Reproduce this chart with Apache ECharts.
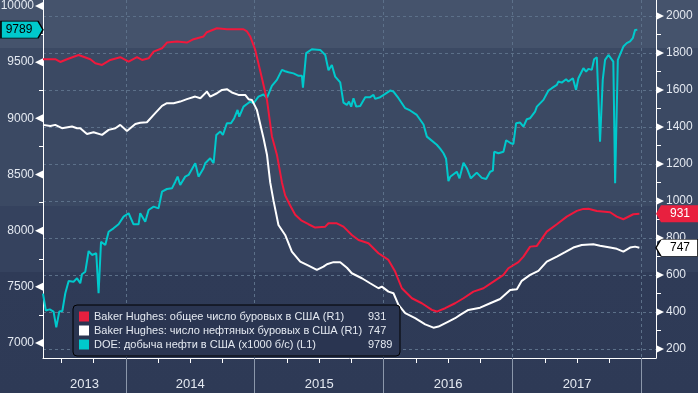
<!DOCTYPE html>
<html><head><meta charset="utf-8">
<script src="https://cdn.jsdelivr.net/npm/echarts@6/dist/echarts.min.js"></script>
<style>html,body{margin:0;padding:0;background:#2f3c58}#c{width:698px;height:393px}</style>
</head><body><div id="c"></div><script>
// ---- data (x = decimal year) ----
const seriesNames = [
  'Baker Hughes: общее число буровых в США (R1)',
  'Baker Hughes: число нефтяных буровых в США (R1)',
  'DOE: добыча нефти в США (x1000 б/с) (L1)'
];
const legendValues = [931, 747, 9789];

const totalRigs = [[2013.358,1766],[2013.453,1766],[2013.492,1751],[2013.544,1766],[2013.634,1789],[2013.725,1766],[2013.764,1744],[2013.816,1735],[2013.880,1762],[2013.957,1777],[2014.022,1753],[2014.087,1777],[2014.126,1762],[2014.177,1771],[2014.216,1807],[2014.281,1825],[2014.319,1856],[2014.397,1862],[2014.474,1856],[2014.526,1874],[2014.603,1889],[2014.629,1912],[2014.707,1933],[2014.784,1928],[2014.862,1928],[2014.913,1928],[2014.940,1916],[2014.965,1889],[2015.004,1816],[2015.056,1663],[2015.095,1546],[2015.133,1350],[2015.172,1250],[2015.211,1100],[2015.236,1030],[2015.275,975],[2015.314,925],[2015.360,895],[2015.417,874],[2015.469,856],[2015.547,861],[2015.572,879],[2015.637,879],[2015.688,861],[2015.753,816],[2015.805,789],[2015.882,771],[2015.960,717],[2016.037,681],[2016.089,618],[2016.141,528],[2016.219,474],[2016.296,447],[2016.374,411],[2016.412,402],[2016.477,420],[2016.554,447],[2016.619,474],[2016.696,510],[2016.774,528],[2016.851,564],[2016.929,600],[2016.967,636],[2017.045,669],[2017.084,699],[2017.136,753],[2017.188,757],[2017.265,834],[2017.343,874],[2017.420,915],[2017.498,946],[2017.549,957],[2017.588,958],[2017.653,946],[2017.756,939],[2017.808,915],[2017.859,901],[2017.936,928],[2017.983,931]];

const oilRigs = [[2013.358,1411],[2013.415,1405],[2013.453,1411],[2013.505,1393],[2013.583,1402],[2013.622,1393],[2013.647,1393],[2013.699,1362],[2013.750,1371],[2013.816,1357],[2013.867,1384],[2013.919,1393],[2013.957,1411],[2014.009,1378],[2014.074,1416],[2014.112,1423],[2014.164,1425],[2014.216,1465],[2014.281,1514],[2014.319,1528],[2014.371,1528],[2014.422,1537],[2014.474,1550],[2014.539,1564],[2014.578,1555],[2014.629,1591],[2014.655,1564],[2014.707,1582],[2014.746,1600],[2014.784,1604],[2014.823,1586],[2014.874,1573],[2014.926,1573],[2014.952,1550],[2014.978,1546],[2015.017,1492],[2015.068,1340],[2015.095,1250],[2015.120,1100],[2015.146,1000],[2015.184,870],[2015.236,816],[2015.288,726],[2015.353,672],[2015.417,650],[2015.482,627],[2015.533,645],[2015.560,658],[2015.611,669],[2015.663,669],[2015.715,639],[2015.753,609],[2015.831,582],[2015.895,555],[2015.960,528],[2015.986,537],[2016.037,510],[2016.076,501],[2016.115,438],[2016.167,393],[2016.244,366],[2016.322,333],[2016.386,315],[2016.425,321],[2016.502,348],[2016.554,366],[2016.593,384],[2016.657,411],[2016.748,423],[2016.826,447],[2016.903,470],[2016.981,519],[2017.033,523],[2017.071,568],[2017.136,600],[2017.200,622],[2017.265,672],[2017.343,699],[2017.407,723],[2017.471,748],[2017.536,762],[2017.626,766],[2017.678,758],[2017.756,748],[2017.808,741],[2017.859,726],[2017.911,748],[2017.950,753],[2017.983,747]];

const oilProduction = [[2013.358,7440],[2013.380,7290],[2013.410,7300],[2013.440,7280],[2013.461,7140],[2013.484,7280],[2013.508,7285],[2013.531,7443],[2013.557,7552],[2013.595,7546],[2013.622,7576],[2013.647,7532],[2013.660,7612],[2013.686,7635],[2013.712,7819],[2013.738,7784],[2013.771,7799],[2013.789,7443],[2013.808,7902],[2013.841,7873],[2013.867,7991],[2013.905,8021],[2013.944,8057],[2013.983,8125],[2014.022,8155],[2014.060,8057],[2014.099,8057],[2014.112,8155],[2014.151,8080],[2014.177,8184],[2014.216,8214],[2014.254,8199],[2014.281,8347],[2014.319,8371],[2014.358,8377],[2014.384,8436],[2014.402,8481],[2014.422,8407],[2014.461,8481],[2014.487,8496],[2014.539,8600],[2014.564,8481],[2014.603,8556],[2014.616,8600],[2014.655,8645],[2014.681,8600],[2014.702,8852],[2014.733,8882],[2014.753,8852],[2014.784,8956],[2014.816,8956],[2014.841,9001],[2014.867,9075],[2014.880,9015],[2014.913,9104],[2014.940,9128],[2014.965,9149],[2014.991,9134],[2015.029,9193],[2015.068,9212],[2015.095,9182],[2015.133,9289],[2015.172,9342],[2015.211,9431],[2015.236,9419],[2015.262,9410],[2015.301,9400],[2015.340,9378],[2015.366,9378],[2015.374,9272],[2015.399,9580],[2015.443,9615],[2015.508,9609],[2015.547,9564],[2015.572,9428],[2015.598,9475],[2015.624,9371],[2015.663,9320],[2015.688,9140],[2015.715,9119],[2015.731,9149],[2015.748,9104],[2015.766,9179],[2015.787,9104],[2015.818,9110],[2015.857,9188],[2015.895,9188],[2015.921,9208],[2015.934,9173],[2015.973,9188],[2016.012,9217],[2016.050,9247],[2016.076,9238],[2016.115,9179],[2016.167,9090],[2016.205,9070],[2016.257,9030],[2016.309,8945],[2016.335,8837],[2016.412,8765],[2016.438,8730],[2016.464,8689],[2016.484,8640],[2016.502,8440],[2016.516,8480],[2016.567,8525],[2016.588,8466],[2016.619,8605],[2016.645,8556],[2016.676,8466],[2016.722,8517],[2016.761,8470],[2016.795,8460],[2016.826,8525],[2016.847,8534],[2016.857,8703],[2016.890,8689],[2016.929,8703],[2016.950,8805],[2016.986,8778],[2017.006,8772],[2017.027,8956],[2017.058,8962],[2017.084,8926],[2017.110,8992],[2017.136,9001],[2017.174,9060],[2017.188,9104],[2017.239,9164],[2017.278,9247],[2017.304,9268],[2017.343,9297],[2017.355,9327],[2017.381,9318],[2017.415,9348],[2017.433,9327],[2017.467,9357],[2017.492,9253],[2017.510,9357],[2017.549,9446],[2017.570,9416],[2017.588,9440],[2017.614,9431],[2017.632,9526],[2017.653,9544],[2017.665,9535],[2017.678,8792],[2017.699,9342],[2017.717,9520],[2017.743,9564],[2017.756,9570],[2017.781,9505],[2017.795,8422],[2017.816,9520],[2017.859,9639],[2017.885,9669],[2017.911,9684],[2017.932,9713],[2017.950,9787],[2017.967,9789]];

// ticks / labels
const leftLabels = [7000,7500,8000,8500,9000,9500,10000];
const leftTicks = [7000,7250,7500,7750,8000,8250,8500,8750,9000,9250,9500,9750,10000];
const rightLabels = [200,400,600,800,1000,1200,1400,1600,1800,2000];
const rightTicks = [200,300,400,500,600,700,800,900,1000,1100,1200,1300,1400,1500,1600,1700,1800,1900,2000];
const yearBounds = [2014,2015,2016,2017,2018];
const quarterTicks = [2013.5,2013.75,2014.25,2014.5,2014.75,2015.25,2015.5,2015.75,2016.25,2016.5,2016.75,2017.25,2017.5,2017.75];
const yearLabelPos = [2013.68,2014.5,2015.5,2016.5,2017.5];
const yearLabels = ['2013','2014','2015','2016','2017'];

// ---- layout / style ----
const FONT = 'Liberation Sans';
const X_MIN = 2013.358, X_MAX = 2018.112;
const L_MIN = 6867, L_MAX = 10053;
const R_MIN = 151, R_MAX = 2086;
const TXT = '#e4e9f1';
const C_RED = '#f0183c', C_WHITE = '#ffffff', C_CYAN = '#00c9cc';

const chart = echarts.init(document.getElementById('c'), null, {renderer: 'canvas'});

const bg = new echarts.graphic.LinearGradient(0, 0, 0, 1, [
  {offset: 0, color: '#45536c'}, {offset: 0.122, color: '#45536c'},
  {offset: 0.122, color: '#3b4963'}, {offset: 0.525, color: '#3b4963'},
  {offset: 0.525, color: '#35425e'}, {offset: 0.692, color: '#35425e'},
  {offset: 0.692, color: '#2f3b57'}, {offset: 1, color: '#2e3a56'}
]);

const xBase = {type: 'value', min: X_MIN, max: X_MAX, position: 'bottom'};
const dashed = {show: true, lineStyle: {color: '#5c7089', type: [3, 3], width: 1}};

const tagLeft = 'path://M0,5L5,0L42,0L42,10L5,10Z';
const tagRight = 'path://M0,0L37,0L42,5L37,10L0,10Z';

function mk(sym, off, fill, stroke, txt, coord, val, lblOff) {
  return {
    symbol: sym, symbolSize: [42, 17], symbolOffset: off, symbolKeepAspect: false,
    itemStyle: {color: fill, borderColor: stroke, borderWidth: stroke ? 1 : 0},
    label: {show: true, position: 'inside', offset: lblOff, color: txt, fontSize: 12, fontFamily: FONT, formatter: '{c}'},
    data: [{coord: coord, value: val}],
    z: 10, animation: false
  };
}

const plain = v => String(v);

const option = {
  animation: false,
  backgroundColor: bg,
  grid: {left: 43, right: 42, top: 0, bottom: 35, containLabel: false, outerBoundsMode: 'none'},
  xAxis: [
    Object.assign({}, xBase, {
      axisLine: {show: true, lineStyle: {color: '#ffffff', width: 1}},
      axisTick: {show: true, customValues: quarterTicks, length: 5, lineStyle: {color: '#ffffff'}},
      axisLabel: {show: false}, splitLine: {show: false}
    }),
    Object.assign({}, xBase, {
      axisLine: {show: false},
      axisTick: {show: true, customValues: yearBounds, length: 36, lineStyle: {color: '#8b97aa'}},
      axisLabel: {show: false}, splitLine: dashed
    }),
    Object.assign({}, xBase, {
      axisLine: {show: false}, axisTick: {show: false}, splitLine: {show: false},
      axisLabel: {show: true, customValues: yearLabelPos, margin: 20, color: TXT, fontSize: 13, fontFamily: FONT,
        formatter: v => { const i = yearLabelPos.findIndex(p => Math.abs(p - v) < 1e-6); return i >= 0 ? yearLabels[i] : ''; }}
    })
  ],
  yAxis: [
    {type: 'value', position: 'left', min: L_MIN, max: L_MAX,
      axisLine: {show: true, lineStyle: {color: '#ffffff'}},
      axisTick: {show: true, customValues: leftTicks, length: 4, lineStyle: {color: '#ffffff'}},
      axisLabel: {show: true, customValues: leftLabels, margin: 9, color: TXT, fontSize: 12, fontFamily: FONT, formatter: plain},
      splitLine: {show: false}},
    {type: 'value', position: 'right', min: R_MIN, max: R_MAX,
      axisLine: {show: true, lineStyle: {color: '#ffffff'}},
      axisTick: {show: true, customValues: rightTicks, length: 5, lineStyle: {color: '#ffffff'}},
      axisLabel: {show: true, customValues: rightLabels, margin: 10, color: TXT, fontSize: 12, fontFamily: FONT, formatter: plain},
      splitLine: {show: false}},
    {type: 'value', position: 'right', min: R_MIN, max: R_MAX,
      axisLine: {show: false}, axisLabel: {show: false},
      axisTick: {show: false, customValues: rightLabels},
      splitLine: dashed}
  ],
  legend: {
    left: 73, top: 305, orient: 'vertical', icon: 'rect', itemWidth: 10, itemHeight: 10, itemGap: 3,
    padding: [6, 4, 6, 6], backgroundColor: '#2a3551', borderColor: '#000000', borderWidth: 1, borderRadius: 4,
    data: seriesNames,
    formatter: name => '{n|' + name + '}{v|' + legendValues[seriesNames.indexOf(name)] + '}',
    textStyle: {color: TXT, fontFamily: FONT, fontSize: 11,
      rich: {n: {width: 274, color: TXT, fontFamily: FONT, fontSize: 11, lineHeight: 11},
             v: {width: 28, color: TXT, fontFamily: FONT, fontSize: 11, lineHeight: 11}}},
    selectedMode: false
  },
  series: [
    {name: seriesNames[2], type: 'line', xAxisIndex: 0, yAxisIndex: 0, data: oilProduction, showSymbol: false, symbol: 'none',
      lineStyle: {color: C_CYAN, width: 2}, itemStyle: {color: C_CYAN}, z: 2,
      markPoint: mk(tagRight, [-21, 0], C_CYAN, '#000000', '#000000', [X_MIN, legendValues[2]], legendValues[2], [-3, 0])},
    {name: seriesNames[1], type: 'line', xAxisIndex: 0, yAxisIndex: 1, data: oilRigs, showSymbol: false, symbol: 'none',
      lineStyle: {color: C_WHITE, width: 2}, itemStyle: {color: C_WHITE}, z: 3,
      markPoint: mk(tagLeft, [21, 0], C_WHITE, '#000000', '#000000', [X_MAX, legendValues[1]], legendValues[1], [3, 0])},
    {name: seriesNames[0], type: 'line', xAxisIndex: 0, yAxisIndex: 1, data: totalRigs, showSymbol: false, symbol: 'none',
      lineStyle: {color: C_RED, width: 2}, itemStyle: {color: '#e8203f'}, z: 4,
      markPoint: mk(tagLeft, [21, 0], '#e8203f', null, '#ffffff', [X_MAX, legendValues[0]], legendValues[0], [3, 0])}
  ]
};

chart.setOption(option);

// arrow heads at labelled ticks, placed through the axes' own scales
const arrows = [];
leftLabels.forEach(v => {
  const p = chart.convertToPixel({xAxisIndex: 0, yAxisIndex: 0}, [X_MIN, v]);
  arrows.push({type: 'polygon', silent: true, z: 50,
    shape: {points: [[p[0] - 8, p[1]], [p[0], p[1] - 4], [p[0], p[1] + 4]]}, style: {fill: '#ffffff'}});
});
rightLabels.forEach(v => {
  const p = chart.convertToPixel({xAxisIndex: 0, yAxisIndex: 1}, [X_MAX, v]);
  arrows.push({type: 'polygon', silent: true, z: 50,
    shape: {points: [[p[0] + 8, p[1]], [p[0], p[1] - 4], [p[0], p[1] + 4]]}, style: {fill: '#ffffff'}});
});
chart.setOption({graphic: arrows});
</script></body></html>
